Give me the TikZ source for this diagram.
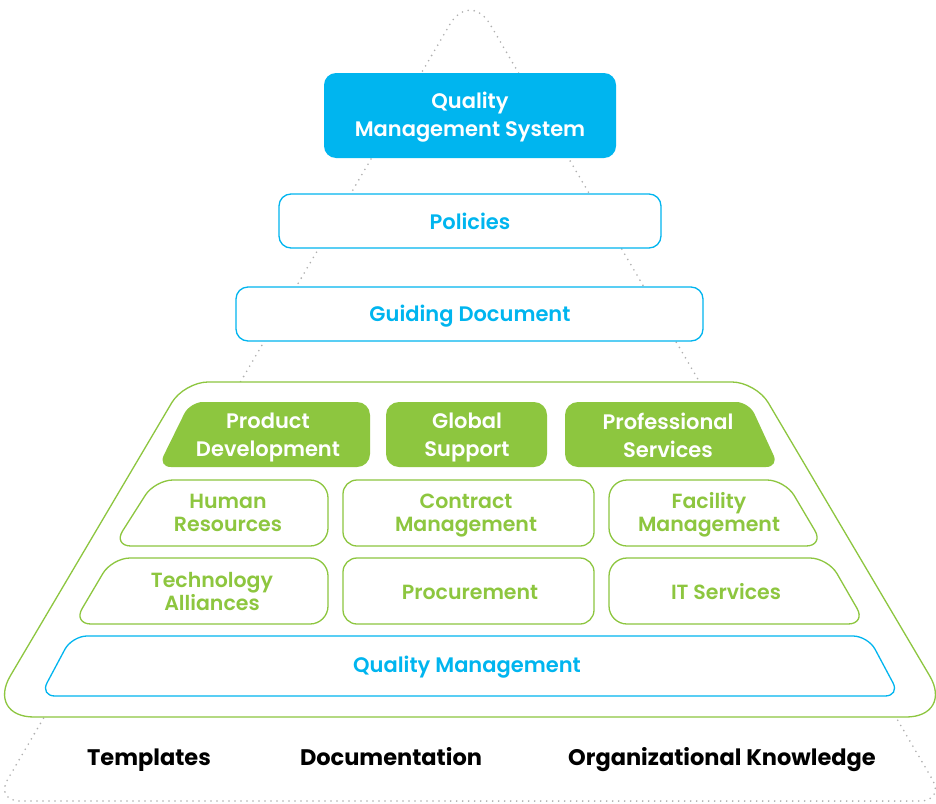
\documentclass[tikz,border=0pt]{standalone}
\usepackage{fontspec}
\setmainfont{Poppins}[BoldFont={Poppins SemiBold}]
\newfontfamily\heavyfont{Poppins Bold}
\definecolor{qblue}{RGB}{0,181,239}
\definecolor{qgreen}{RGB}{141,198,63}
\definecolor{qdot}{RGB}{175,175,175}
\tikzset{
  gline/.style={draw=qgreen, line width=1.3pt, fill=white},
  gfillbox/.style={fill=qgreen},
  bline/.style={draw=qblue, line width=1.3pt, fill=white},
  bfillbox/.style={fill=qblue},
  dotline/.style={draw=qdot, line width=1.8pt, line cap=round, dash pattern=on 0pt off 6pt},
  wtxt/.style={text=white, font=\fontsize{21}{28}\selectfont\bfseries, align=center},
  gtxt/.style={text=qgreen, font=\fontsize{20.5}{23}\selectfont\bfseries, align=center},
  btxt/.style={text=qblue, font=\fontsize{21}{28}\selectfont\bfseries, align=center},
  ktxt/.style={text=black, font=\fontsize{22.5}{28}\selectfont\heavyfont, align=center},
}
\begin{document}
\begin{tikzpicture}[x=1pt, y=-1pt]
\useasboundingbox[fill=white] (0,0) rectangle (936,803);
% dotted background triangle
\draw[dotline] (470,801) [rounded corners=25pt] -- (-5,801) [rounded corners=40pt] -- (470,-10) [rounded corners=25pt] -- (945,801) -- cycle;
% top boxes
\fill[bfillbox, rounded corners=12pt] (324,73) rectangle (616,158);
\node[wtxt] (qms) at (470,117) {Quality\\Management System};
\draw[bline, rounded corners=12pt] (279,194) rectangle (661,248);
\node[btxt] (pol) at (470,221) {Policies};
\draw[bline, rounded corners=12pt] (236,287) rectangle (703,341);
\node[btxt] (gd) at (470,316) {Guiding Document};
% large green trapezoid
\draw[gline] (470,382) [rounded corners=24pt] -- (756,382) [rounded corners=48pt] -- (954,717) -- (-14,717) [rounded corners=24pt] -- (184,382) -- cycle;
% row 1 (filled green)
\fill[gfillbox, rounded corners=13pt] (190,402) -- (370,402) -- (370,467) -- (158,467) -- cycle;
\node[wtxt] (pd) at (268,437) {Product\\Development};
\fill[gfillbox, rounded corners=13pt] (386,402) rectangle (547,467);
\node[wtxt] (gs) at (467,437) {Global\\Support};
\fill[gfillbox, rounded corners=13pt] (565,402) -- (749,402) -- (779,467) -- (565,467) -- cycle;
\node[wtxt] (ps) at (668,435) {Professional\\Services};
% row 2
\draw[gline, rounded corners=18pt] (155,480) -- (328,480) -- (328,546) -- (113,546) -- cycle;
\node[gtxt] (hr) at (228,513) {Human\\Resources};
\draw[gline, rounded corners=14pt] (343,480) rectangle (594,546);
\node[gtxt] (cm) at (466,516) {Contract\\Management};
\draw[gline, rounded corners=18pt] (609,480) -- (785,480) -- (824,546) -- (609,546) -- cycle;
\node[gtxt] (fm) at (709,515) {Facility\\Management};
% row 3
\draw[gline, rounded corners=18pt] (112,558) -- (328,558) -- (328,624) -- (73,624) -- cycle;
\node[gtxt] (ta) at (212,591) {Technology\\Alliances};
\draw[gline, rounded corners=14pt] (343,558) rectangle (594,624);
\node[gtxt] (pr) at (470,592) {Procurement};
\draw[gline, rounded corners=18pt] (609,558) -- (828,558) -- (866,624) -- (609,624) -- cycle;
\node[gtxt] (its) at (726,592) {IT Services};
% quality management
\draw[bline, rounded corners=15pt] (72,636) -- (868,636) -- (900,696) -- (40,696) -- cycle;
\node[btxt] (qm) at (467,667) {Quality Management};
% bottom labels
\node[ktxt] (tpl) at (149,760) {Templates};
\node[ktxt] (doc) at (391,757) {Documentation};
\node[ktxt] (ok) at (722,760) {Organizational Knowledge};
\end{tikzpicture}
\end{document}
